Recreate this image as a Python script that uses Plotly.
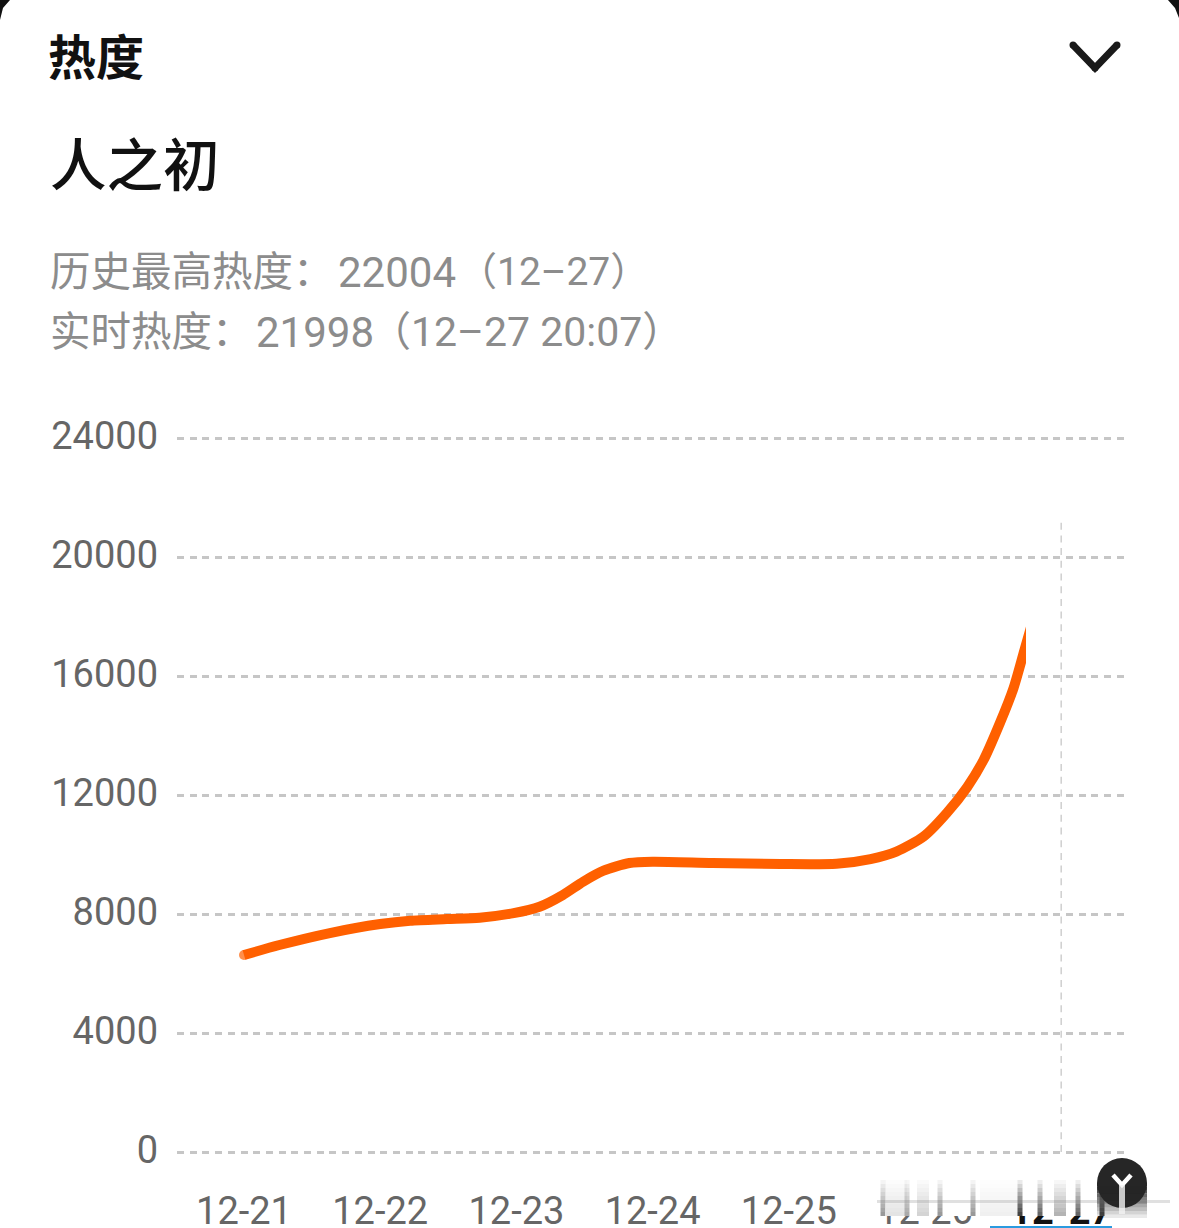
import plotly.graph_objects as go

W, H = 1179, 1228

# heat values, x is days since 12-21
days = [0, 0.26, 0.63, 1.0, 1.22, 1.49, 1.73, 1.98, 2.17, 2.34, 2.49, 2.64, 2.83, 3.0,
        3.44, 3.94, 4.35, 4.6, 4.79, 4.99, 5.16, 5.31, 5.43, 5.55, 5.65, 5.73, 5.84]
heat = [6620, 6957, 7360, 7663, 7775, 7830, 7875, 8030, 8245, 8637, 9085, 9455, 9713, 9757,
        9713, 9680, 9690, 9848, 10100, 10604, 11395, 12268, 13175, 14419, 15595, 16872, 18620]
tick_days = [0, 1, 2, 3, 4, 5, 6]
tick_dates = ['12-21', '12-22', '12-23', '12-24', '12-25', '12-26', '<b><span style="color:#111">12-27</span></b>']
heat_ticks = [0, 4000, 8000, 12000, 16000, 20000, 24000]
cursor_day = [6, 6]
cursor_heat = [0, 21176]


def px(x):
    return x / W


def py(y):
    return 1 - y / H


def rect(x0, y0, x1, y1, color, opacity=1.0):
    return dict(type='rect', xref='paper', yref='paper', x0=px(x0), x1=px(x1), y0=py(y0), y1=py(y1),
                fillcolor=color, opacity=opacity, line_width=0, layer='above')


def path(points, close=False):
    s = 'M' + ' L'.join(f'{px(x):.5f},{py(y):.5f}' for x, y in points)
    return s + (' Z' if close else '')


def dot(x, y, r, color):
    return dict(type='circle', xref='paper', yref='paper', x0=px(x - r), x1=px(x + r), y0=py(y + r), y1=py(y - r),
                fillcolor=color, line_width=0, layer='above')


fig = go.Figure()

# cursor line at the last day
fig.add_trace(go.Scatter(x=cursor_day, y=cursor_heat, mode='lines', hoverinfo='skip',
                         line=dict(color='#cfcfcf', width=1.5, dash='7px,5.7px')))
# line sits on its own x axis that stops early, that gives the straight cut at the end
fig.add_trace(go.Scatter(x=days, y=heat, xaxis='x2', mode='lines+markers', line=dict(color='#ff6000', width=10, shape='spline', smoothing=0.7),
                         marker=dict(color='#ff6000', size=[10] + [0] * (len(days) - 1), line_width=0)))

x_left = (177 - 244) / 136.2
# 2px of slack top and bottom or plotly drops the gridlines at the range ends
per_px = 24000 / 714
fig.update_layout(
    width=W, height=H, autosize=False, showlegend=False,
    margin=dict(l=0, r=0, t=0, b=0), paper_bgcolor='white', plot_bgcolor='white',
    xaxis=dict(domain=[px(177), px(1124)], range=[x_left, (1124 - 244) / 136.2], tickvals=tick_days, ticktext=tick_dates,
               showgrid=False, zeroline=False, showline=False, ticks='', ticklabelstandoff=31, automargin=False,
               tickfont=dict(family='Roboto', size=38, color='#666666')),
    xaxis2=dict(domain=[px(177), px(1026)], range=[x_left, (1026 - 244) / 136.2], anchor='y', visible=False, automargin=False),
    yaxis=dict(domain=[py(1154), py(436)], range=[-2 * per_px, 24000 + 2 * per_px], tickvals=heat_ticks, showgrid=True,
               gridcolor='#c6c6c6', gridwidth=2.5, griddash='7px,5.7px', zeroline=False, showline=False, ticks='',
               ticklabelstandoff=18, ticklabelshift=-2, tickformat='d', automargin=False,
               tickfont=dict(family='Roboto', size=38, color='#666666')),
)

# header text
head = [
    ('热度', 45.5, 58, 48, '#111111', 700),
    ('人之初', 48, 167, 56.5, '#111111', 500),
    ('历史最高热度：', 48, 272, 40.5, '#8c8c8c', 400),
    ('22004', 336, 272, 42, '#8c8c8c', 400),
    ('（12–27）', 456, 272, 39, '#8c8c8c', 400),
    ('实时热度：', 48, 332, 40.5, '#8c8c8c', 400),
    ('21998', 254, 332, 42, '#8c8c8c', 400),
    ('（12–27 20:07）', 368, 332, 41, '#8c8c8c', 400),
]
for text, x, y, size, color, weight in head:
    fig.add_annotation(text=text, xref='paper', yref='paper', x=px(x), y=py(y),
                       xanchor='left', yanchor='middle', showarrow=False,
                       font=dict(family='Roboto, Noto Sans CJK SC', size=size, color=color, weight=weight))

shapes = []
# chevron
chevron = [(1073, 45), (1095, 68), (1117, 45)]
shapes.append(dict(type='path', path=path(chevron), xref='paper', yref='paper', line=dict(color='#1a1a1a', width=7), layer='above'))
shapes += [dot(x, y, 3.5, '#1a1a1a') for x, y in chevron]

# black phone corners
shapes.append(dict(type='path', xref='paper', yref='paper', fillcolor='#111111', line_width=0, layer='above',
                   path=path([(0, 0), (10, 0), (3, 8), (0, 20)], close=True)))
shapes.append(dict(type='path', xref='paper', yref='paper', fillcolor='#111111', line_width=0, layer='above',
                   path=path([(1179, 0), (1168, 0), (1175, 8), (1179, 18)], close=True)))

# watermark smear across the last two labels
shapes.append(rect(877, 1178, 1170, 1216, 'white', 1.0))
streaks = [(883, 5, '#999999'), (896, 22, '#e4e4e4'), (907, 5, '#aaaaaa'), (923, 12, '#d4d4d4'), (940, 5, '#999999'),
           (973, 5, '#999999'), (1000, 40, '#f0f0f0'), (1020, 5, '#444444'), (1040, 5, '#666666'), (1060, 12, '#b4b4b4'),
           (1078, 5, '#666666'), (1102, 5, '#444444')]
for x, w, color in streaks:
    for i in range(9):
        shapes.append(rect(x - w / 2, 1180 + i * 4, x + w / 2, 1184 + i * 4, color, (i + 1) / 9))
shapes.append(rect(877, 1200, 1170, 1203, '#999999', 0.3))
# badge
shapes.append(dot(1122, 1183, 25, '#262626'))
for i in range(10):
    shapes.append(rect(1097, 1183 + i * 3.5, 1147, 1186.5 + i * 3.5, '#262626', 1 - i / 10))
shapes.append(rect(1097, 1183, 1147, 1185, '#262626'))
shapes.append(dict(type='path', xref='paper', yref='paper', line=dict(color='white', width=4.5), layer='above',
                   path=path([(1113, 1175), (1122, 1185), (1131, 1175)])))
shapes.append(rect(1119, 1185, 1125, 1214, '#f2f2f2', 0.8))
# blue pill at the very bottom
shapes.append(rect(990, 1226, 1112, 1228, '#2a9be0'))
fig.update_layout(shapes=shapes)

fig.write_html('out.html', config=dict(displayModeBar=False),
               post_script="document.body.style.margin='0';document.body.style.overflow='hidden';")
